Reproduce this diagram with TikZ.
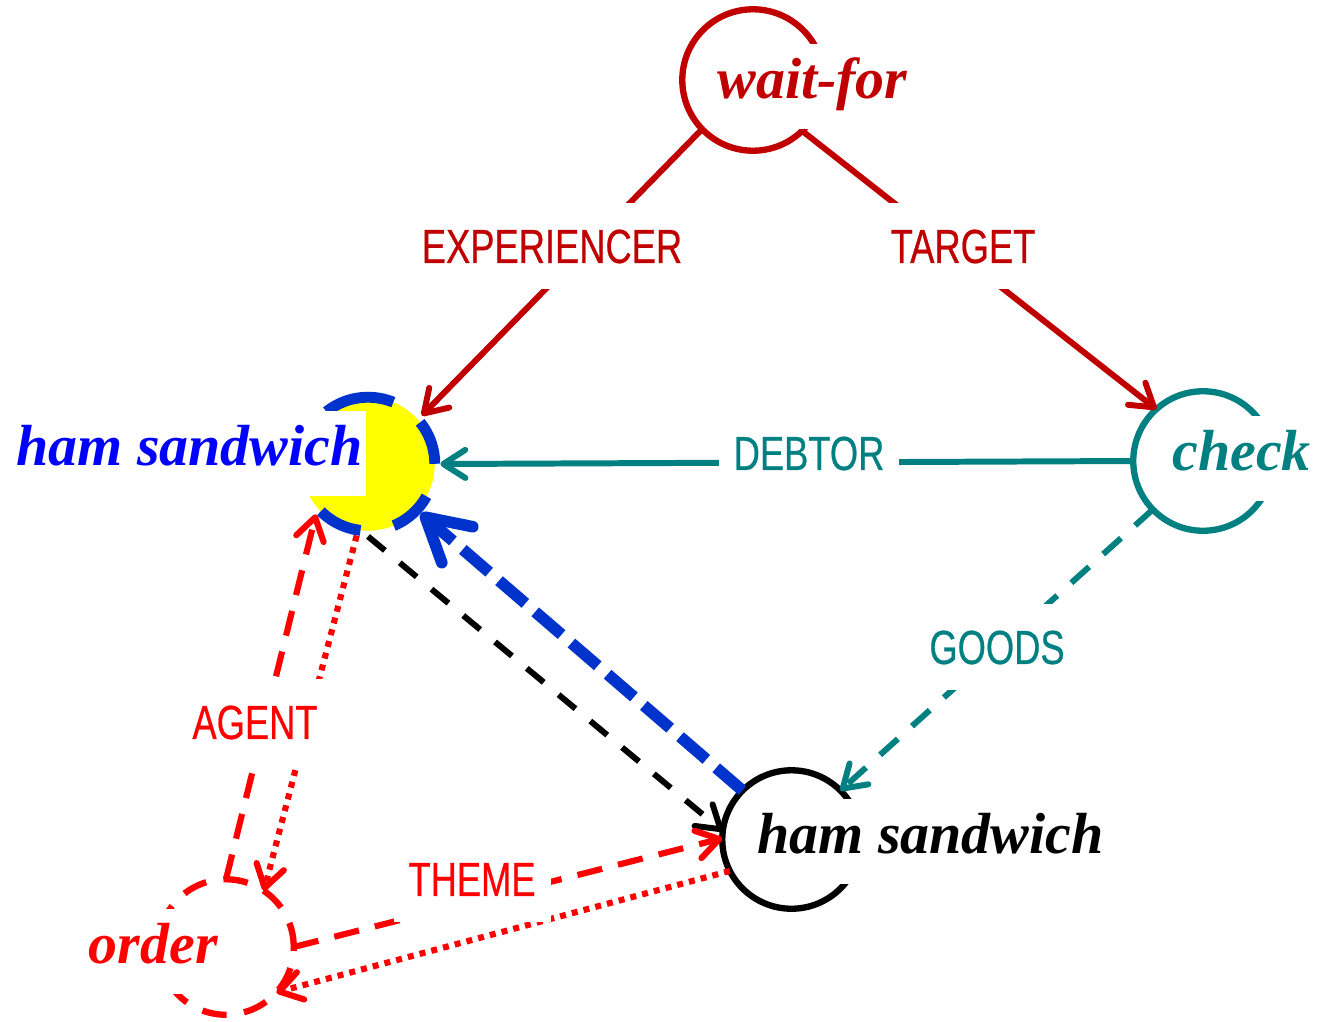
\documentclass[tikz,border=0pt]{standalone}
\usepackage{fontspec}
\setmainfont{Liberation Serif}
\newfontfamily\labfont[FakeStretch=0.76,FakeBold=0.5]{Liberation Sans}
\usetikzlibrary{arrows.meta}
\definecolor{wred}{HTML}{C00000}
\definecolor{wteal}{HTML}{008080}
\definecolor{rred}{HTML}{FF0000}
\definecolor{tblue}{HTML}{0000FF}
\definecolor{sblue}{HTML}{0033CC}
\definecolor{yel}{HTML}{FFFF00}
\tikzset{
  ring/.style={circle, draw, line width=3.6pt, inner sep=0pt, outer sep=0pt, minimum size=#1},
  ntext/.style={font=\fontsize{33pt}{40pt}\selectfont\bfseries\itshape, fill=white,
     inner xsep=1.7pt, inner ysep=7.9pt, text height=22.7pt, text depth=9.6pt},
  lab/.style={font=\labfont\fontsize{27.2pt}{32pt}\selectfont, fill=white,
     inner xsep=8.5pt, inner ysep=14.7pt, text height=19.3pt, text depth=0pt},
  arr/.style={-{Straight Barb[length=12.5pt,width=16pt,round]}, line width=3.4pt},
  rdash/.style={dash pattern=on 14.5pt off 9.3pt, line width=3.5pt},
  rdot/.style={dash pattern=on 3.4pt off 3.5pt, line width=3.5pt},
}
\begin{document}
\begin{tikzpicture}[x=0.02cm, y=-0.02cm]
\useasboundingbox (0,0) rectangle (1317,1021);
% circles
\node[ring=80.5pt, draw=wred] (waitfor) at (753,80) {};
\node[ring=79.4pt, draw=wteal] (check) at (1203,461) {};
\node[ring=78.8pt, draw=black] (hamK) at (791.5,839.5) {};
\node[ring=77.1pt, draw=rred, dash pattern=on 14pt off 10pt] (order) at (226,947) {};
\node[circle, fill=yel, inner sep=0pt, outer sep=3.2pt, minimum size=76pt] (hamB) at (368,464) {};
\draw[sblue, line width=6.2pt, dash pattern=on 25.5pt off 19.3pt]
  (hamB.center) ++(0pt,38pt) arc[start angle=90, delta angle=360, radius=38pt];
% texts
\node[ntext, text=wred, anchor=base west] (twait) at (714,98) {wait-for};
\node[ntext, text=wteal, anchor=base west] (tcheck) at (1169,470) {check};
\node[ntext, text=black, anchor=base west] (thamK) at (754,853) {ham sandwich};
\node[ntext, text=tblue, anchor=base east] (thamB) at (366,465) {ham sandwich};
\node[ntext, text=rred, anchor=base east] (torder) at (221,963) {order};
% edges
\draw[arr, wred] (waitfor.224) -- (hamB.42);
\draw[arr, wred] (waitfor.-46) -- (check.132);
\draw[arr, wteal] (check.180) -- (hamB.0);
\draw[arr, wteal, dash pattern=on 13.6pt off 10.8pt] (check.224) -- (hamK.45);
\draw[arr, rred, rdash] (order.90) -- (hamB.224);
\draw[arr, rred, rdot] (hamB.261) -- (order.56);
\draw[arr, black, dash pattern=on 12.5pt off 11pt] (hamB.270) -- (hamK.173);
\draw[-{Straight Barb[length=24pt,width=27pt,round]}, sblue, line width=6.6pt,
  dash pattern=on 19.8pt off 7.4pt] (hamK.135) -- (hamB.317);
\draw[arr, rred, rdash] (order.0) -- (hamK.179);
\draw[arr, rred, rdot] (hamK.207) -- (order.-42);
% labels
\node[lab, text=wred] (lexp) at (552,246) {EXPERIENCER};
\node[lab, text=wred] (ltar) at (963,246) {TARGET};
\node[lab, text=wteal] (ldeb) at (809,453) {DEBTOR};
\node[lab, text=wteal] (lgoo) at (997,647) {GOODS};
\node[lab, text=rred] (lage) at (255,722) {AGENT};
\node[lab, text=rred] (lthe) at (472,879) {THEME};
\end{tikzpicture}
\end{document}
